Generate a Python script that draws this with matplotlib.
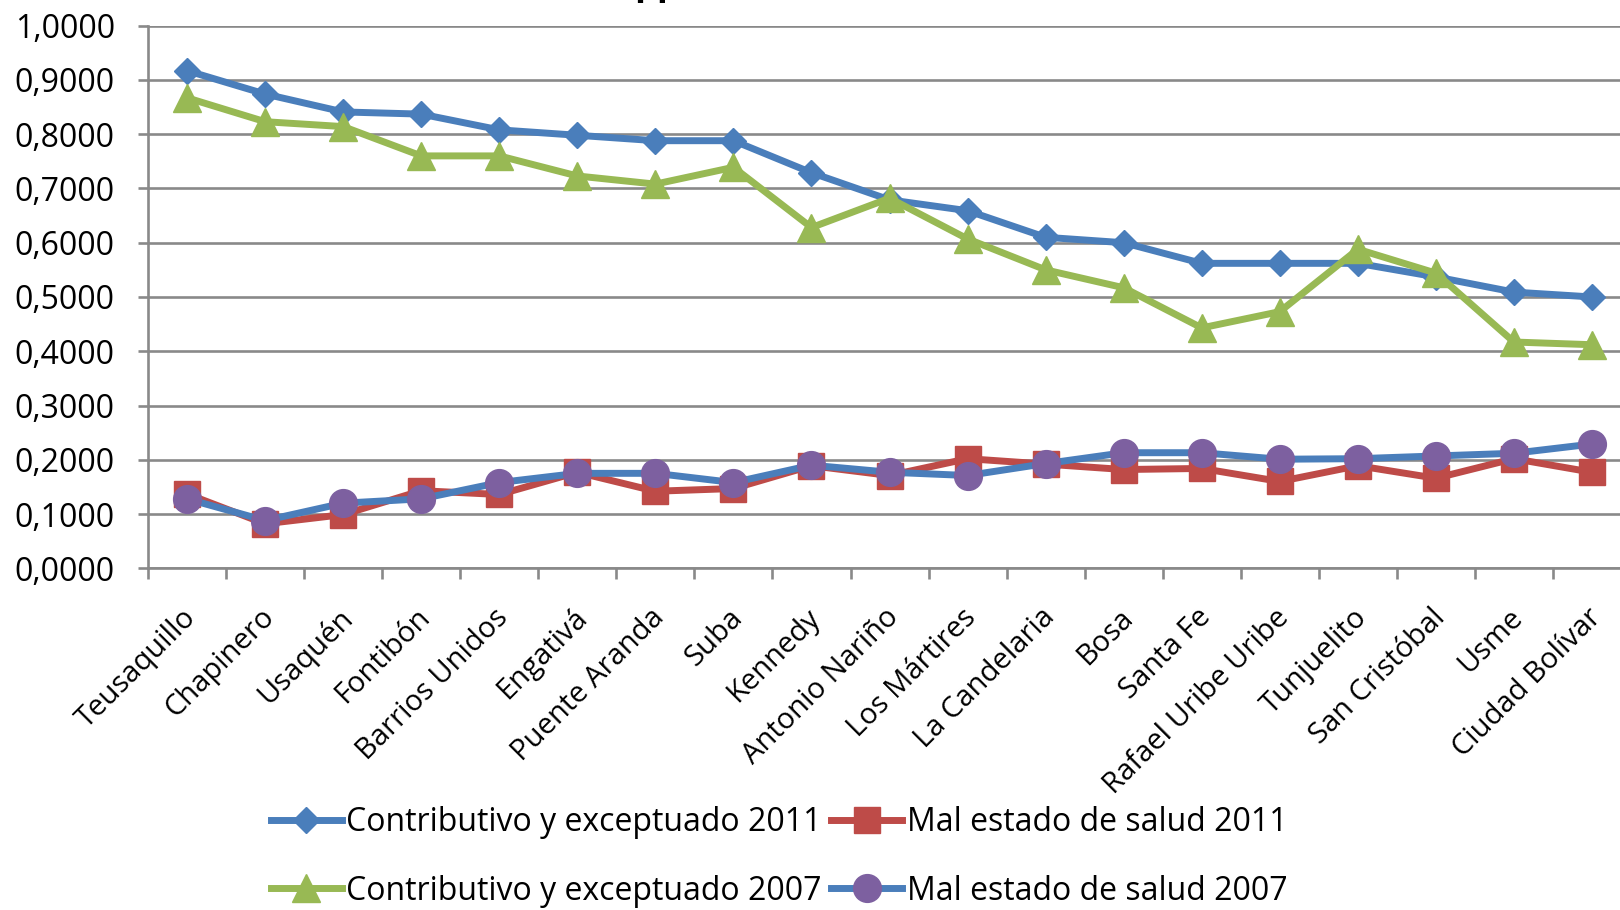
import matplotlib
matplotlib.use("Agg")
import matplotlib.pyplot as plt
from matplotlib.transforms import ScaledTranslation

plt.rcParams['font.family'] = ['Open Sans', 'DejaVu Sans']

localidades = ["Teusaquillo", "Chapinero", "Usaquén", "Fontibón", "Barrios Unidos",
               "Engativá", "Puente Aranda", "Suba", "Kennedy", "Antonio Nariño",
               "Los Mártires", "La Candelaria", "Bosa", "Santa Fe", "Rafael Uribe Uribe",
               "Tunjuelito", "San Cristóbal", "Usme", "Ciudad Bolívar"]

contributivo_2011 = [0.917, 0.874, 0.841, 0.837, 0.808, 0.798, 0.788, 0.788, 0.729,
                     0.679, 0.659, 0.610, 0.600, 0.562, 0.562, 0.562, 0.537, 0.509, 0.500]
mal_estado_2011 = [0.137, 0.082, 0.099, 0.143, 0.136, 0.177, 0.142, 0.147, 0.189,
                   0.171, 0.202, 0.192, 0.182, 0.184, 0.160, 0.189, 0.166, 0.202, 0.177]
contributivo_2007 = [0.867, 0.823, 0.814, 0.760, 0.760, 0.723, 0.708, 0.739, 0.628,
                     0.682, 0.607, 0.550, 0.517, 0.443, 0.473, 0.588, 0.544, 0.417, 0.412]
mal_estado_2007 = [0.128, 0.088, 0.120, 0.128, 0.158, 0.175, 0.175, 0.158, 0.190,
                   0.177, 0.171, 0.193, 0.213, 0.213, 0.201, 0.202, 0.207, 0.212, 0.229]

y_ticks = [0.0, 0.1, 0.2, 0.3, 0.4, 0.5, 0.6, 0.7, 0.8, 0.9, 1.0]
y_tick_labels = ["0,0000", "0,1000", "0,2000", "0,3000", "0,4000", "0,5000",
                 "0,6000", "0,7000", "0,8000", "0,9000", "1,0000"]

BLUE = "#4A7EBB"
RED = "#BE4B48"
GREEN = "#98B954"
PURPLE = "#7D60A0"
GRID = "#898989"

fig = plt.figure(figsize=(16.2, 9.1), dpi=100)
ax = fig.add_axes([0.0914, 0.3755, 0.9154, 0.5963])

x = list(range(len(localidades)))
lw = 5
h1, = ax.plot(x, contributivo_2011, color=BLUE, lw=lw, marker='D', ms=13.5,
              mfc=BLUE, mec=BLUE, label="Contributivo y exceptuado 2011", zorder=3)
h2, = ax.plot(x, mal_estado_2011, color=RED, lw=lw, marker='s', ms=19,
              mfc=RED, mec=RED, label="Mal estado de salud 2011", zorder=4)
h3, = ax.plot(x, contributivo_2007, color=GREEN, lw=lw, marker='^', ms=20,
              mfc=GREEN, mec=GREEN, label="Contributivo y exceptuado 2007", zorder=5)
h4, = ax.plot(x, mal_estado_2007, color=BLUE, lw=lw, marker='o', ms=20,
              mfc=PURPLE, mec=PURPLE, label="Mal estado de salud 2007", zorder=6)

ax.set_xlim(-0.5, len(localidades) - 0.5)
ax.set_ylim(0, 1.0)
ax.set_yticks(y_ticks)
ax.set_yticklabels(y_tick_labels, fontsize=23)
ax.yaxis.grid(True, color=GRID, lw=1.9, zorder=0)
ax.set_axisbelow(True)

ax.set_xticks(x)
ax.set_xticklabels(localidades, fontsize=21, rotation=45, ha='right', va='top',
                   rotation_mode='anchor')
ax.set_xticks([i - 0.5 for i in range(len(localidades) + 1)], minor=True)
ax.tick_params(axis='x', which='major', length=0, pad=25)
ax.tick_params(axis='x', which='minor', length=8, width=1.9, color=GRID, direction='out')
ax.tick_params(axis='y', which='major', length=7, width=1.9, color=GRID, pad=17)

off = ScaledTranslation(-4 / 72, 0, fig.dpi_scale_trans)
for lbl in ax.get_xticklabels():
    lbl.set_transform(lbl.get_transform() + off)

for s in ['top', 'right']:
    ax.spines[s].set_visible(False)
for s in ['left', 'bottom']:
    ax.spines[s].set_color(GRID)
    ax.spines[s].set_linewidth(1.9)

fig.legend(handles=[h1, h3, h2, h4], ncol=2, loc='center',
           bbox_to_anchor=(0.481, 0.0585), frameon=False, fontsize=23,
           handlelength=2.2, handletextpad=0.15, columnspacing=0.3,
           labelspacing=1.12, numpoints=1, borderpad=0)

fig.text(0.3915, 1.0062, "pp", fontsize=26, fontweight='bold', va='baseline', ha='left')

fig.savefig("out.png", dpi=100)
